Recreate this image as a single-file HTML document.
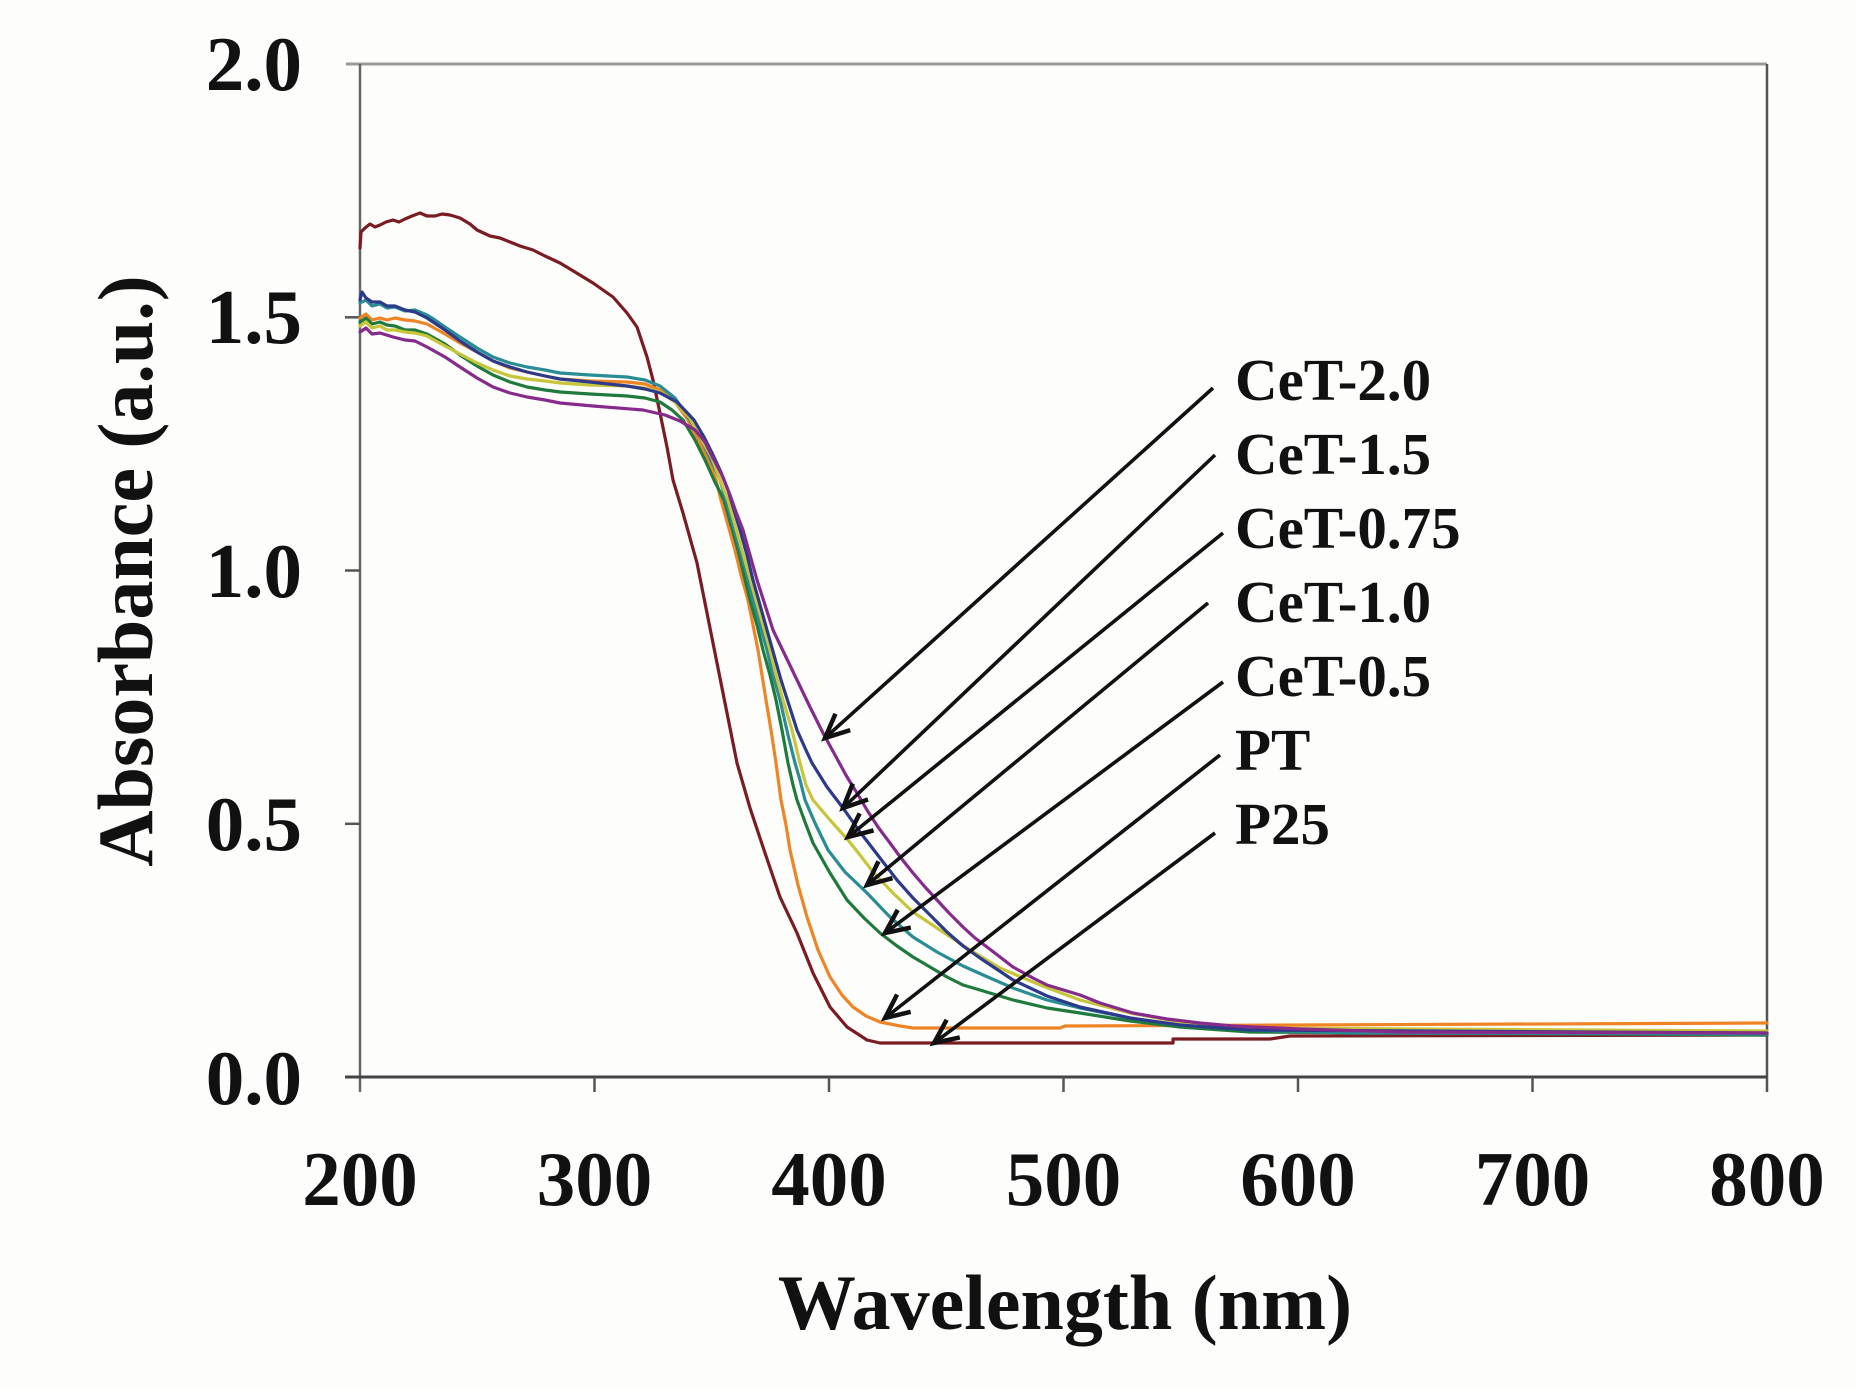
<!DOCTYPE html>
<html>
<head>
<meta charset="utf-8">
<style>
html,body{margin:0;padding:0;background:#fdfdfc;}
svg{display:block;}
text{font-family:"Liberation Serif","Times New Roman",serif;font-weight:bold;fill:#111;}
</style>
</head>
<body>
<svg width="1856" height="1388" viewBox="0 0 1856 1388" xmlns="http://www.w3.org/2000/svg">
<defs>
<marker id="ah" markerWidth="32" markerHeight="32" refX="27" refY="13" orient="auto" markerUnits="userSpaceOnUse">
<path d="M3,2 L27,13 L3,24" fill="none" stroke="#111" stroke-width="4.5" stroke-linejoin="miter"/>
</marker>
</defs>
<rect x="0" y="0" width="1856" height="1388" fill="#fdfdfc"/>

<!-- frame -->
<line x1="346" y1="64" x2="1767" y2="64" stroke="#9a9a9a" stroke-width="3"/>
<line x1="1767" y1="64" x2="1767" y2="1092" stroke="#555" stroke-width="2.5"/>
<line x1="360" y1="64" x2="360" y2="1092" stroke="#666" stroke-width="2.5"/>
<line x1="345" y1="1077" x2="1767" y2="1077" stroke="#444" stroke-width="3"/>
<!-- y ticks -->
<g stroke="#555" stroke-width="2.5">
<line x1="345" y1="570.5" x2="360" y2="570.5"/>
<line x1="345" y1="823.8" x2="360" y2="823.8"/>
<line x1="345" y1="317.3" x2="360" y2="317.3"/>
<!-- x ticks -->
<line x1="594.5" y1="1077" x2="594.5" y2="1092"/>
<line x1="829" y1="1077" x2="829" y2="1092"/>
<line x1="1063.5" y1="1077" x2="1063.5" y2="1092"/>
<line x1="1298" y1="1077" x2="1298" y2="1092"/>
<line x1="1532.5" y1="1077" x2="1532.5" y2="1092"/>
</g>

<!-- tick labels -->
<g font-size="77" text-anchor="end">
<text x="302" y="90">2.0</text>
<text x="302" y="343">1.5</text>
<text x="302" y="597">1.0</text>
<text x="302" y="850">0.5</text>
<text x="302" y="1104">0.0</text>
</g>
<g font-size="77" text-anchor="middle">
<text x="360" y="1205">200</text>
<text x="594.5" y="1205">300</text>
<text x="829" y="1205">400</text>
<text x="1063.5" y="1205">500</text>
<text x="1298" y="1205">600</text>
<text x="1532.5" y="1205">700</text>
<text x="1767" y="1205">800</text>
</g>
<text x="1065" y="1329" font-size="78" text-anchor="middle">Wavelength (nm)</text>
<text transform="translate(152,571) rotate(-90)" font-size="78" text-anchor="middle">Absorbance (a.u.)</text>

<!-- series -->
<g fill="none" stroke-width="3.2" stroke-linejoin="round" stroke-linecap="round">
<!-- P25 maroon -->
<polyline stroke="#7a1c22" points="360,248 361,232 365,228 370,224 375,227 380,225 386,222 393,220 399,222 405,219 412,216 420,213 427,216 435,216 442,214 450,215 460,218 470,224 477,230 490,236 500,238 510,242 520,246 533,250 545,256 560,263 575,272 593,283 613,297 627,313 637,327 647,357 653,380 660,413 667,447 673,480 683,513 697,563 707,613 717,663 727,713 737,763 750,808 765,853 780,897 797,933 813,973 830,1007 847,1027 867,1040 880,1043 1173,1043 1173,1039 1270,1039 1290,1036 1767,1035"/>
<!-- PT orange -->
<polyline stroke="#ef8424" points="360,318 366,314 372,320 380,318 387,320 395,318 405,320 415,321 427,324 445,334 460,343 477,352 493,361 510,368 527,372 545,376 560,379 590,381 627,382 645,384 660,390 675,402 688,420 698,440 708,460 716,480 721,500 728,525 735,550 741,575 748,600 753,625 758,650 762,675 766,700 771,730 776,763 781,800 786,825 790,850 798,885 807,917 818,950 830,977 842,995 853,1007 866,1016 880,1022 900,1026 913,1028 1060,1028 1065,1026 1300,1025 1767,1023"/>
<!-- CeT-0.5 green -->
<polyline stroke="#1f7a3c" points="360,322 366,318 372,324 380,322 387,325 395,326 405,330 415,330 427,334 445,344 460,355 477,366 493,375 510,382 527,387 545,390 560,392 590,394 627,396 645,398 660,402 672,410 683,420 695,440 705,460 714,480 724,500 731,525 738,550 744,575 750,600 757,625 763,650 770,675 776,700 782,730 788,763 793,785 797,800 805,822 813,843 830,873 847,900 864,918 880,933 897,946 913,957 930,967 947,977 963,985 980,990 1013,1000 1047,1008 1080,1013 1130,1021 1180,1027 1250,1032 1767,1035"/>
<!-- CeT-1.0 teal -->
<polyline stroke="#2a8c94" points="360,303 366,300 372,306 380,304 387,308 395,307 405,311 415,310 427,315 435,320 445,327 460,337 477,348 493,357 510,363 527,367 545,370 560,373 590,375 627,377 645,380 660,386 675,398 690,420 700,437 710,458 720,480 726,500 733,525 740,550 747,575 753,600 760,625 767,650 773,675 780,700 788,735 795,763 800,780 805,800 815,823 828,850 845,872 867,893 890,917 913,937 937,952 963,966 990,978 1013,988 1047,1000 1080,1008 1130,1018 1180,1025 1250,1030 1350,1033 1767,1034"/>
<!-- CeT-0.75 yellow -->
<polyline stroke="#c9c53a" points="360,326 366,322 372,328 380,326 387,330 395,330 405,332 415,333 427,336 445,346 460,354 477,363 493,370 510,376 527,379 545,381 560,383 590,385 627,386 645,388 660,392 675,402 690,418 700,437 712,458 720,480 728,500 735,525 742,550 749,575 756,600 763,625 770,650 776,675 783,700 792,730 800,763 806,785 813,800 830,820 848,840 860,855 873,872 893,893 913,912 940,930 970,950 1000,968 1040,985 1080,1000 1130,1013 1180,1022 1250,1028 1767,1031"/>
<!-- CeT-1.5 navy -->
<polyline stroke="#2b3a8a" points="360,300 362,292 366,298 372,302 380,302 387,306 395,306 405,310 415,312 427,318 445,330 460,341 477,352 493,361 510,367 527,372 545,376 560,379 590,382 627,386 645,389 660,393 677,402 694,420 704,437 713,455 720,470 728,490 734,510 740,530 747,555 753,580 760,605 767,630 774,655 781,680 789,705 797,730 805,748 812,763 827,787 843,808 860,832 880,858 897,880 913,898 930,915 947,932 963,946 980,958 1013,980 1047,996 1080,1007 1130,1018 1180,1025 1250,1030 1767,1033"/>
<!-- CeT-2.0 purple -->
<polyline stroke="#862a8c" points="360,332 366,328 372,334 380,333 393,337 405,340 415,341 427,347 445,357 460,367 477,378 493,387 510,393 527,397 545,400 560,403 593,406 643,410 665,415 680,421 695,430 705,442 713,458 722,475 730,495 736,512 743,530 750,555 757,580 765,605 773,630 785,655 797,680 810,707 823,733 835,755 847,777 857,793 867,810 878,827 890,843 901,858 913,873 925,887 937,900 950,914 963,927 975,938 987,947 1000,957 1013,967 1033,978 1047,985 1080,995 1100,1003 1133,1013 1167,1019 1200,1023 1233,1026 1300,1029 1400,1032 1767,1033"/>
</g>

<!-- arrows -->
<g stroke="#111" stroke-width="3.6" fill="none" marker-end="url(#ah)">
<line x1="1213" y1="388" x2="825" y2="738"/>
<line x1="1215" y1="455" x2="843" y2="808"/>
<line x1="1223" y1="533" x2="848" y2="837"/>
<line x1="1208" y1="603" x2="867" y2="885"/>
<line x1="1223" y1="682" x2="885" y2="933"/>
<line x1="1220" y1="755" x2="885" y2="1018"/>
<line x1="1215" y1="833" x2="934" y2="1043"/>
</g>

<!-- labels -->
<g font-size="59">
<text x="1235" y="400">CeT-2.0</text>
<text x="1235" y="474">CeT-1.5</text>
<text x="1235" y="548">CeT-0.75</text>
<text x="1235" y="622">CeT-1.0</text>
<text x="1235" y="696">CeT-0.5</text>
<text x="1235" y="770">PT</text>
<text x="1235" y="844">P25</text>
</g>
</svg>
</body>
</html>
